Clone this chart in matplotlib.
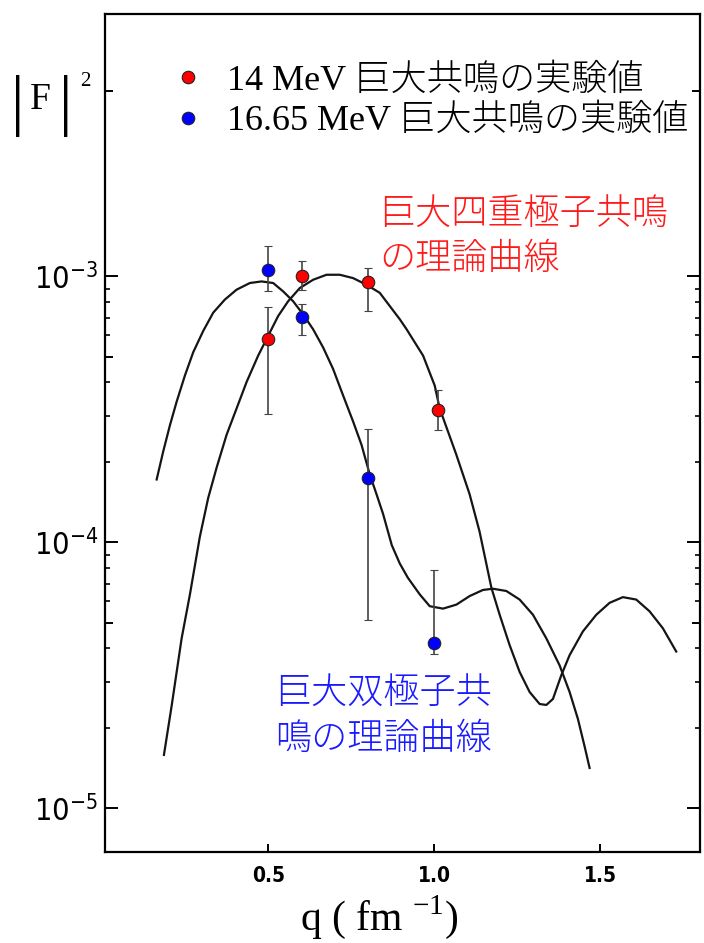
"""巨大共鳴の形状因子 |F|^2 の再現図。"""

import matplotlib

matplotlib.use("Agg")
import matplotlib.pyplot as plt
import numpy as np
from matplotlib.font_manager import FontProperties
from matplotlib.lines import Line2D
from matplotlib.ticker import FixedLocator, FuncFormatter, FormatStrFormatter

# 14 MeV 巨大共鳴の実験値
q_14 = [0.50, 0.60, 0.80, 1.01]
f2_14 = [5.8e-4, 1.00e-3, 9.5e-4, 3.14e-4]
f2_14_hi = [7.7e-4, 1.14e-3, 1.08e-3, 3.73e-4]
f2_14_lo = [3.05e-4, 8.9e-4, 7.4e-4, 2.65e-4]

# 16.65 MeV 巨大共鳴の実験値
q_1665 = [0.50, 0.60, 0.80, 1.00]
f2_1665 = [1.06e-3, 7.06e-4, 1.74e-4, 4.2e-5]
f2_1665_hi = [1.30e-3, 7.9e-4, 2.67e-4, 7.9e-5]
f2_1665_lo = [8.85e-4, 6.0e-4, 5.1e-5, 3.8e-5]

# 巨大四重極子共鳴の理論曲線
q_e2 = [0.1855, 0.2087, 0.2388, 0.2638, 0.2936, 0.3188, 0.3441, 0.3742, 0.4043,
        0.4344, 0.4693, 0.4994, 0.5295, 0.5596, 0.5948, 0.6348, 0.6751, 0.7151,
        0.7552, 0.7955, 0.8355, 0.896, 0.916, 0.966, 1.001, 1.016, 1.066, 1.106,
        1.136, 1.1717, 1.1966, 1.2267, 1.2568, 1.2869, 1.3170, 1.3372,
        1.3571, 1.3823, 1.4073, 1.4473, 1.4877, 1.5277, 1.5677, 1.6080, 1.6481,
        1.6881, 1.7284]
f2_e2 = [1.59e-5, 2.43e-5, 4.36e-5, 6.38e-5, 1.05e-4, 1.47e-4, 1.91e-4, 2.54e-4,
         3.19e-4, 4.01e-4, 5.04e-4, 5.98e-4, 7.10e-4, 8.07e-4, 9.05e-4, 9.72e-4,
         1.015e-3, 1.015e-3, 9.86e-4, 9.31e-4, 8.68e-4, 6.90e-4, 6.34e-4, 5.04e-4,
         3.89e-4, 3.19e-4, 2.14e-4, 1.52e-4, 1.10e-4, 6.76e-5, 5.35e-5,
         4.11e-5, 3.26e-5, 2.74e-5, 2.47e-5, 2.45e-5, 2.58e-5, 3.17e-5, 3.77e-5,
         4.63e-5, 5.35e-5, 5.93e-5, 6.23e-5, 6.10e-5, 5.51e-5, 4.76e-5, 3.89e-5]

# 巨大双極子共鳴の理論曲線
q_e1 = [0.1636, 0.1834, 0.2036, 0.2237, 0.2486, 0.2737, 0.3038, 0.3339, 0.3691,
        0.4043, 0.4443, 0.4795, 0.5144, 0.5445, 0.5746, 0.6047, 0.6348, 0.6649,
        0.6950, 0.7251, 0.7552, 0.7805, 0.8055, 0.8256, 0.8455, 0.8717, 0.8957,
        0.9198, 0.9559, 0.986, 1.026, 1.0664, 1.1064, 1.1464, 1.1765, 1.2168,
        1.2568, 1.2969, 1.3372, 1.3772, 1.4073, 1.4323, 1.4525, 1.4675]
f2_e1 = [1.725e-4, 2.20e-4, 2.76e-4, 3.38e-4, 4.24e-4, 5.19e-4, 6.24e-4, 7.31e-4,
         8.19e-4, 8.92e-4, 9.45e-4, 9.58e-4, 9.45e-4, 8.79e-4, 8.07e-4, 7.20e-4,
         6.33e-4, 5.41e-4, 4.49e-4, 3.57e-4, 2.85e-4, 2.33e-4, 1.80e-4, 1.52e-4,
         1.28e-4, 9.77e-5, 8.34e-5, 7.38e-5, 6.38e-5, 5.76e-5, 5.64e-5, 5.84e-5,
         6.29e-5, 6.63e-5, 6.70e-5, 6.57e-5, 6.10e-5, 5.35e-5, 4.36e-5, 3.45e-5,
         2.74e-5, 2.17e-5, 1.71e-5, 1.42e-5]

x_ticks = [0.5, 1.0, 1.5]
y_decades = [1e-5, 1e-4, 1e-3]
y_fives = [5e-5, 5e-4, 5e-3]
minor_subs = [2, 3, 4, 6, 7, 8, 9]

legend_labels = ["14 MeV 巨大共鳴の実験値", "16.65 MeV 巨大共鳴の実験値"]
e2_label = "巨大四重極子共鳴\nの理論曲線"
e1_label = "巨大双極子共\n鳴の理論曲線"

W, H = 704, 943


def fx(px):
    return px / W


def fy(py):
    return 1 - py / H


serif_cjk = ["Liberation Serif", "Noto Sans CJK JP"]

fig = plt.figure(figsize=(W / 100, H / 100), dpi=100)
ax = fig.add_axes([fx(105), fy(852), fx(700) - fx(105), fy(14) - fy(852)])

ax.plot(q_e2, f2_e2, color="#151515", lw=1.6, zorder=2, solid_joinstyle="round")
ax.plot(q_e1, f2_e1, color="#151515", lw=1.6, zorder=2, solid_joinstyle="round")

err_14 = [np.array(f2_14) - np.array(f2_14_lo), np.array(f2_14_hi) - np.array(f2_14)]
err_1665 = [np.array(f2_1665) - np.array(f2_1665_lo), np.array(f2_1665_hi) - np.array(f2_1665)]
marker_kw = dict(fmt="o", ms=9, mec="#222222", mew=0.8, ecolor="#444444",
                 elinewidth=1.2, capsize=3, capthick=1.2, zorder=3)
ax.errorbar(q_14, f2_14, yerr=err_14, mfc="#ff0000", **marker_kw)
ax.errorbar(q_1665, f2_1665, yerr=err_1665, mfc="#0000ff", **marker_kw)

ax.set_yscale("log")
ax.set_xlim(0.008, 1.80)
ax.set_ylim(6.86e-6, 9.7e-3)

ax.xaxis.set_major_locator(FixedLocator(x_ticks))
ax.xaxis.set_major_formatter(FormatStrFormatter("%.1f"))
ax.xaxis.set_minor_locator(FixedLocator([]))

ax.yaxis.set_major_locator(FixedLocator(y_decades + y_fives))
ax.yaxis.set_minor_locator(FixedLocator([s * d for d in y_decades[:2] for s in minor_subs]))


def decade_label(v, pos):
    e = np.log10(v)
    if abs(e - round(e)) < 1e-6:
        return r"$\mathregular{10^{%d}}$" % round(e)
    return ""


ax.yaxis.set_major_formatter(FuncFormatter(decade_label))

for side in ax.spines.values():
    side.set_linewidth(1.6)
ax.tick_params(axis="y", which="major", direction="in", length=9.5, width=1.4,
               left=True, right=True, pad=5)
ax.tick_params(axis="y", which="minor", direction="in", length=3.6, width=1.2,
               left=True, right=True)
ax.tick_params(axis="x", which="major", direction="in", length=6, width=1.4,
               top=False, pad=10)
for lab in ax.get_yticklabels():
    lab.set_fontproperties(FontProperties(family="DejaVu Sans", stretch="condensed", size=22))
for lab in ax.get_xticklabels():
    lab.set_fontproperties(FontProperties(family="DejaVu Sans", stretch="condensed",
                                          weight="bold", size=15))

# 5 x 10^n の目盛りは中くらいの長さ
y_ticks = ax.yaxis.get_major_ticks()
for loc, tick in zip(y_decades + y_fives, y_ticks):
    if loc in y_fives:
        tick.tick1line.set_markersize(5.8)
        tick.tick2line.set_markersize(5.8)

ax.set_xlabel(r"q ( fm $^{\mathregular{-1}}$)", family="Liberation Serif", fontsize=30)
ax.xaxis.set_label_coords((379 - 105) / 595, (852 - 893) / 838)

# |F|^2
bar_kw = dict(family="Liberation Serif", fontsize=48, va="center", ha="center")
fig.text(fx(18), fy(106), "|", **bar_kw)
fig.text(fx(66), fy(106), "|", **bar_kw)
fig.text(fx(40), fy(100), "F", family="Liberation Serif", fontsize=27, va="center", ha="center")
fig.text(fx(85), fy(82), "2", family="Liberation Serif", fontsize=15, va="center", ha="center")

# 凡例
handles = [Line2D([], [], ls="none", marker="o", ms=9, mfc=c, mec="#222222", mew=0.8)
           for c in ("#ff0000", "#0000ff")]
ax.legend(handles, legend_labels, loc="upper left",
          bbox_to_anchor=(fx(170), fy(64)), bbox_transform=fig.transFigure,
          frameon=False, borderpad=0, borderaxespad=0, handlelength=1.0,
          handletextpad=0.58, labelspacing=0.2,
          prop=FontProperties(family=serif_cjk, size=26, weight="light"))

cjk = FontProperties(family="Noto Sans CJK JP", size=26, weight="light")
fig.text(fx(379), fy(194), e2_label, color="#ff1a1a", fontproperties=cjk,
         va="top", ha="left", linespacing=1.25)
fig.text(fx(275), fy(674), e1_label, color="#1a1aff", fontproperties=cjk,
         va="top", ha="left", linespacing=1.25)

fig.savefig("out.png", dpi=100, facecolor="white")
plt.close(fig)
